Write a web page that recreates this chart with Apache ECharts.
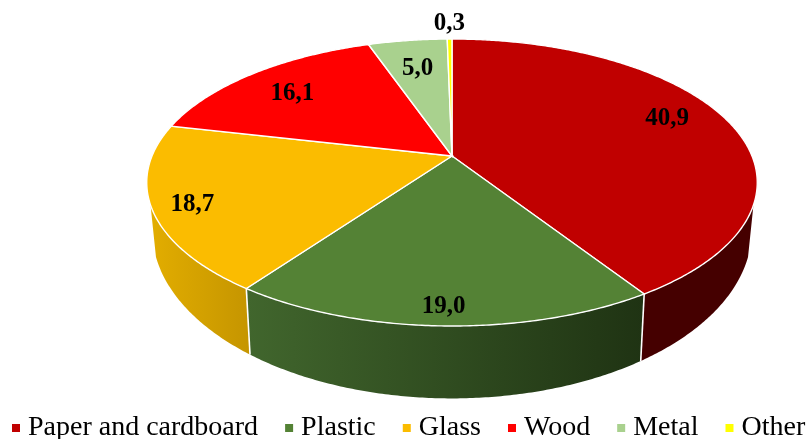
<!DOCTYPE html>
<html><head><meta charset="utf-8">
<style>html,body{margin:0;padding:0;background:#fff}#c{width:810px;height:439px}</style>
<script src="https://cdn.jsdelivr.net/npm/echarts@6/dist/echarts.min.js"></script>
</head><body><div id="c"></div>
<script>
const categories = ['Paper and cardboard','Plastic','Glass','Wood','Metal','Other'];
const values = [40.9,19.0,18.7,16.1,5.0,0.3];
const valueLabels = ['40,9','19,0','18,7','16,1','5,0','0,3'];
const colors = ['#c00000','#548235','#fbbc00','#ff0000','#a9d18e','#ffff00'];
const sideLeft = ['#450000','#41662d','#e2ad00','#990000','#66804f','#999900'];
const sideRight = ['#450000','#1f3313','#c59500','#990000','#66804f','#999900'];

// projection of the tilted disc
const P = {cx:452, cy:156, B:300, A:138.6, k:0.1847, cy2:199.7, B2:294.6, A2:162};
function toRad(d){return d*Math.PI/180;}
function topPoint(deg,r){ r = r==null?1:r;
  const u=r*Math.sin(toRad(deg)), v=r*Math.cos(toRad(deg)), w=1+P.k*v;
  return [P.cx+P.B*u/w, P.cy-P.A*v/w];
}
function bottomPoint(deg){
  const u=Math.sin(toRad(deg)), v=Math.cos(toRad(deg)), w=1+P.k*v;
  return [P.cx+P.B2*u/w, P.cy2-P.A2*v/w];
}
const total = values.reduce((a,b)=>a+b,0);
const VIS0=109.4, VIS1=250.6;
const labelRadius=[0.77,0.84,0.78,0.72,0.72,1.13];
const labelNudge=[[2,-9],[-1,13],[-29,8],[-12,-1],[-1,-1],[0,-3]];

function renderSlice(idx){
  return function(params,api){
    let s=0; for(let i=0;i<idx;i++) s+=values[i];
    const a0=s/total*360, a1=(s+api.value(0))/total*360;
    const children=[];
    const v0=Math.max(a0,VIS0), v1=Math.min(a1,VIS1);
    if(v1>v0){
      const pts=[], n=Math.ceil((v1-v0)*2);
      for(let i=0;i<=n;i++) pts.push(topPoint(v0+(v1-v0)*i/n));
      for(let i=n;i>=0;i--) pts.push(bottomPoint(v0+(v1-v0)*i/n));
      children.push({type:'polygon',z2:1,shape:{points:pts},style:{
        fill:new echarts.graphic.LinearGradient(0,0,1,0,[{offset:0,color:sideLeft[idx]},{offset:1,color:sideRight[idx]}])}});
      if(a1<VIS1){
        children.push({type:'line',z2:2,shape:{x1:topPoint(a1)[0],y1:topPoint(a1)[1],x2:bottomPoint(a1)[0],y2:bottomPoint(a1)[1]},
          style:{stroke:'#fff',lineWidth:1.6}});
      }
    }
    const pts=[[P.cx,P.cy]], n=Math.max(2,Math.ceil((a1-a0)*2));
    for(let i=0;i<=n;i++) pts.push(topPoint(a0+(a1-a0)*i/n));
    children.push({type:'polygon',z2:3,shape:{points:pts},style:{fill:colors[idx],stroke:'#fff',lineWidth:1.4}});
    const c=topPoint((a0+a1)/2,labelRadius[idx]);
    children.push({type:'text',z2:4,style:{text:valueLabels[idx],x:c[0]+labelNudge[idx][0],y:c[1]+labelNudge[idx][1],
      fontFamily:'Liberation Serif',fontWeight:'bold',fontSize:25,fill:'#000',align:'center',verticalAlign:'middle'}});
    return {type:'group',children};
  };
}
const chart=echarts.init(document.getElementById('c'),null,{renderer:'canvas'});
chart.setOption({
  animation:false,
  backgroundColor:'#fff',
  legend:{left:12,top:414,icon:'rect',itemWidth:8,itemHeight:8,itemGap:27,padding:0,
    data:categories,
    textStyle:{fontFamily:'Liberation Serif',fontSize:28,color:'#000',padding:[0,0,0,3]}},
  series:categories.map((name,i)=>({
    type:'custom',name,coordinateSystem:'none',
    itemStyle:{color:colors[i]},
    renderItem:renderSlice(i),
    data:[[values[i]]]
  }))
});
</script></body></html>
